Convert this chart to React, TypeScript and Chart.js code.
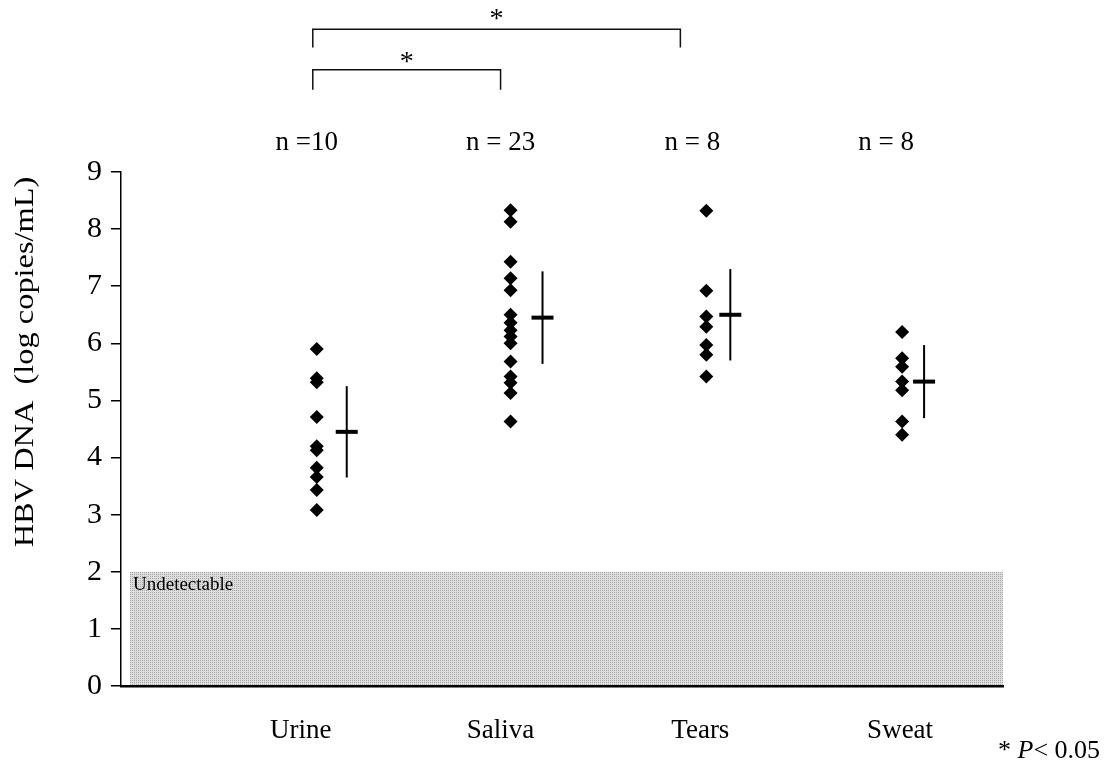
import React, { useEffect, useRef } from 'react';
import { Chart, registerables } from 'chart.js';

Chart.register(...registerables);

// ---------- data ----------
const categories = ['Urine', 'Saliva', 'Tears', 'Sweat'];
const nLabels = ['n =10', 'n = 23', 'n = 8', 'n = 8'];
const urine = [5.9, 5.39, 5.32, 4.71, 4.2, 4.13, 3.82, 3.66, 3.43, 3.08];
const saliva = [8.33, 8.13, 7.43, 7.14, 6.93, 6.5, 6.36, 6.23, 6.12, 6.0, 5.68, 5.42, 5.31, 5.13, 4.63];
const tears = [8.32, 6.92, 6.47, 6.29, 5.97, 5.8, 5.42];
const sweat = [6.2, 5.74, 5.59, 5.33, 5.18, 4.63, 4.4];
const means = [4.45, 6.45, 6.5, 5.33];
const sds = [0.8, 0.81, 0.8, 0.64];
const yTicks = [0, 1, 2, 3, 4, 5, 6, 7, 8, 9];
const undetectableLimit = 2;
const undetectableLabel = 'Undetectable';
const yTitle = 'HBV DNA  (log copies/mL)';
const comparisons = [
  { from: 0, to: 1, label: '*' },
  { from: 0, to: 2, label: '*' },
];
const pValueNote = { prefix: '* ', italic: 'P', suffix: '< 0.05' };

const groups = [urine, saliva, tears, sweat];

// ---------- layout constants ----------
const FONT = '"Liberation Serif", "Times New Roman", "DejaVu Serif", serif';
const POINT_OFFSET = [0.08, 0.05, 0.03, 0.01];
const MEAN_OFFSET = [0.23, 0.21, 0.15, 0.12];
const N_OFFSET = [0.03, 0, -0.04, -0.07];
const BRACKET_X = [1.06, 2.0, 2.9];
const BRACKET_LEVELS = [
  { y: 10.79, leg: 10.44, star: 11.0 },
  { y: 11.5, leg: 11.18, star: 11.75 },
];
const N_LABEL_Y = 9.51;

function makePattern(ctx: CanvasRenderingContext2D) {
  const c = document.createElement('canvas');
  c.width = 2;
  c.height = 2;
  const p = c.getContext('2d')!;
  p.fillStyle = '#dedede';
  p.fillRect(0, 0, 2, 2);
  p.fillStyle = '#a8a8a8';
  p.fillRect(0, 0, 1, 1);
  return ctx.createPattern(c, 'repeat')!;
}

const overlayPlugin = {
  id: 'overlay',
  beforeDraw(chart: any) {
    const { ctx, chartArea } = chart;
    const y = chart.scales.y;
    const left = chartArea.left + 9;
    const right = chartArea.right;
    const top = y.getPixelForValue(undetectableLimit);
    const bottom = y.getPixelForValue(0);
    ctx.save();
    ctx.fillStyle = makePattern(ctx);
    ctx.fillRect(left, top, right - left, bottom - top);
    ctx.fillStyle = '#000';
    ctx.font = `19px ${FONT}`;
    ctx.textBaseline = 'middle';
    ctx.textAlign = 'left';
    ctx.fillText(undetectableLabel, left + 3, top + 13);
    ctx.restore();
  },
  afterDatasetsDraw(chart: any) {
    const { ctx } = chart;
    const x = chart.scales.x;
    const y = chart.scales.y;
    ctx.save();
    ctx.strokeStyle = '#000';
    means.forEach((m, i) => {
      const px = x.getPixelForValue(i + 1 + MEAN_OFFSET[i]);
      ctx.lineWidth = 2;
      ctx.beginPath();
      ctx.moveTo(px, y.getPixelForValue(m + sds[i]));
      ctx.lineTo(px, y.getPixelForValue(m - sds[i]));
      ctx.stroke();
      ctx.lineWidth = 4;
      ctx.beginPath();
      ctx.moveTo(px - 11, y.getPixelForValue(m));
      ctx.lineTo(px + 11, y.getPixelForValue(m));
      ctx.stroke();
    });
    ctx.restore();
  },
  afterDraw(chart: any) {
    const { ctx } = chart;
    const x = chart.scales.x;
    const y = chart.scales.y;
    ctx.save();
    ctx.fillStyle = '#000';
    // n labels
    ctx.font = `27px ${FONT}`;
    ctx.textAlign = 'center';
    ctx.textBaseline = 'middle';
    nLabels.forEach((t, i) => {
      ctx.fillText(t, x.getPixelForValue(i + 1 + N_OFFSET[i]), y.getPixelForValue(N_LABEL_Y));
    });
    // brackets
    ctx.strokeStyle = '#111';
    ctx.lineWidth = 1.5;
    comparisons.forEach((c, k) => {
      const lvl = BRACKET_LEVELS[k];
      const x1 = x.getPixelForValue(BRACKET_X[c.from]);
      const x2 = x.getPixelForValue(BRACKET_X[c.to]);
      const yb = y.getPixelForValue(lvl.y);
      const yl = y.getPixelForValue(lvl.leg);
      ctx.beginPath();
      ctx.moveTo(x1, yl);
      ctx.lineTo(x1, yb);
      ctx.lineTo(x2, yb);
      ctx.lineTo(x2, yl);
      ctx.stroke();
      ctx.font = `28px ${FONT}`;
      ctx.fillText(c.label, (x1 + x2) / 2, y.getPixelForValue(lvl.star) + 5);
    });
    // y title
    ctx.save();
    ctx.translate(26, 362);
    ctx.rotate(-Math.PI / 2);
    ctx.scale(1.2, 1);
    ctx.font = `27px ${FONT}`;
    ctx.textAlign = 'center';
    ctx.textBaseline = 'middle';
    ctx.fillText(yTitle, 0, 0);
    ctx.restore();
    // p-value note
    ctx.textAlign = 'left';
    ctx.textBaseline = 'alphabetic';
    let px = 998;
    const py = 758;
    ctx.font = `26px ${FONT}`;
    ctx.fillText(pValueNote.prefix, px, py);
    px += ctx.measureText(pValueNote.prefix).width;
    ctx.font = `italic 26px ${FONT}`;
    ctx.fillText(pValueNote.italic, px, py);
    px += ctx.measureText(pValueNote.italic).width;
    ctx.font = `26px ${FONT}`;
    ctx.fillText(pValueNote.suffix, px, py);
    ctx.restore();
  },
};

export default function App() {
  const ref = useRef<HTMLCanvasElement | null>(null);
  useEffect(() => {
    if (!ref.current) return;
    const datasets = groups.map((g, i) => ({
      label: categories[i],
      data: g.map((v) => ({ x: i + 1 + POINT_OFFSET[i], y: v })),
      pointStyle: 'rectRot' as const,
      pointRadius: 7,
      pointBackgroundColor: '#000',
      pointBorderColor: '#000',
      pointBorderWidth: 0,
      showLine: false,
    }));
    const chart = new Chart(ref.current, {
      type: 'scatter',
      data: { datasets },
      options: {
        animation: false,
        responsive: false,
        layout: { padding: { top: 172, right: 109, left: 0, bottom: 0 } },
        plugins: { legend: { display: false }, tooltip: { enabled: false } },
        scales: {
          x: {
            type: 'linear',
            min: 0.1,
            max: 4.515,
            afterBuildTicks: (scale: any) => {
              scale.ticks = categories.map((_, i) => ({ value: i + 1 }));
            },
            afterFit: (scale: any) => {
              scale.height = 82;
            },
            ticks: {
              callback: (v: any) => categories[Number(v) - 1] ?? '',
              font: { family: FONT, size: 27 },
              color: '#000',
              padding: 21,
              maxRotation: 0,
              autoSkip: false,
            },
            grid: { display: false },
            border: { display: true, color: '#000', width: 2.5 },
          },
          y: {
            type: 'linear',
            min: 0,
            max: 9,
            afterBuildTicks: (scale: any) => {
              scale.ticks = yTicks.map((v) => ({ value: v }));
            },
            afterFit: (scale: any) => {
              scale.width = 121;
            },
            ticks: {
              font: { family: FONT, size: 30 },
              color: '#000',
              padding: 9,
            },
            grid: {
              display: true,
              drawOnChartArea: false,
              drawTicks: true,
              tickLength: 10,
              color: '#000',
              lineWidth: 1.5,
            },
            border: { display: true, color: '#000', width: 1.5 },
          },
        },
      },
      plugins: [overlayPlugin],
    });
    return () => chart.destroy();
  }, []);
  return (
    <div style={{ position: 'absolute', left: 0, top: 0, width: 1112, height: 768, background: '#fff' }}>
      <canvas ref={ref} width={1112} height={768} style={{ display: 'block' }} />
    </div>
  );
}
